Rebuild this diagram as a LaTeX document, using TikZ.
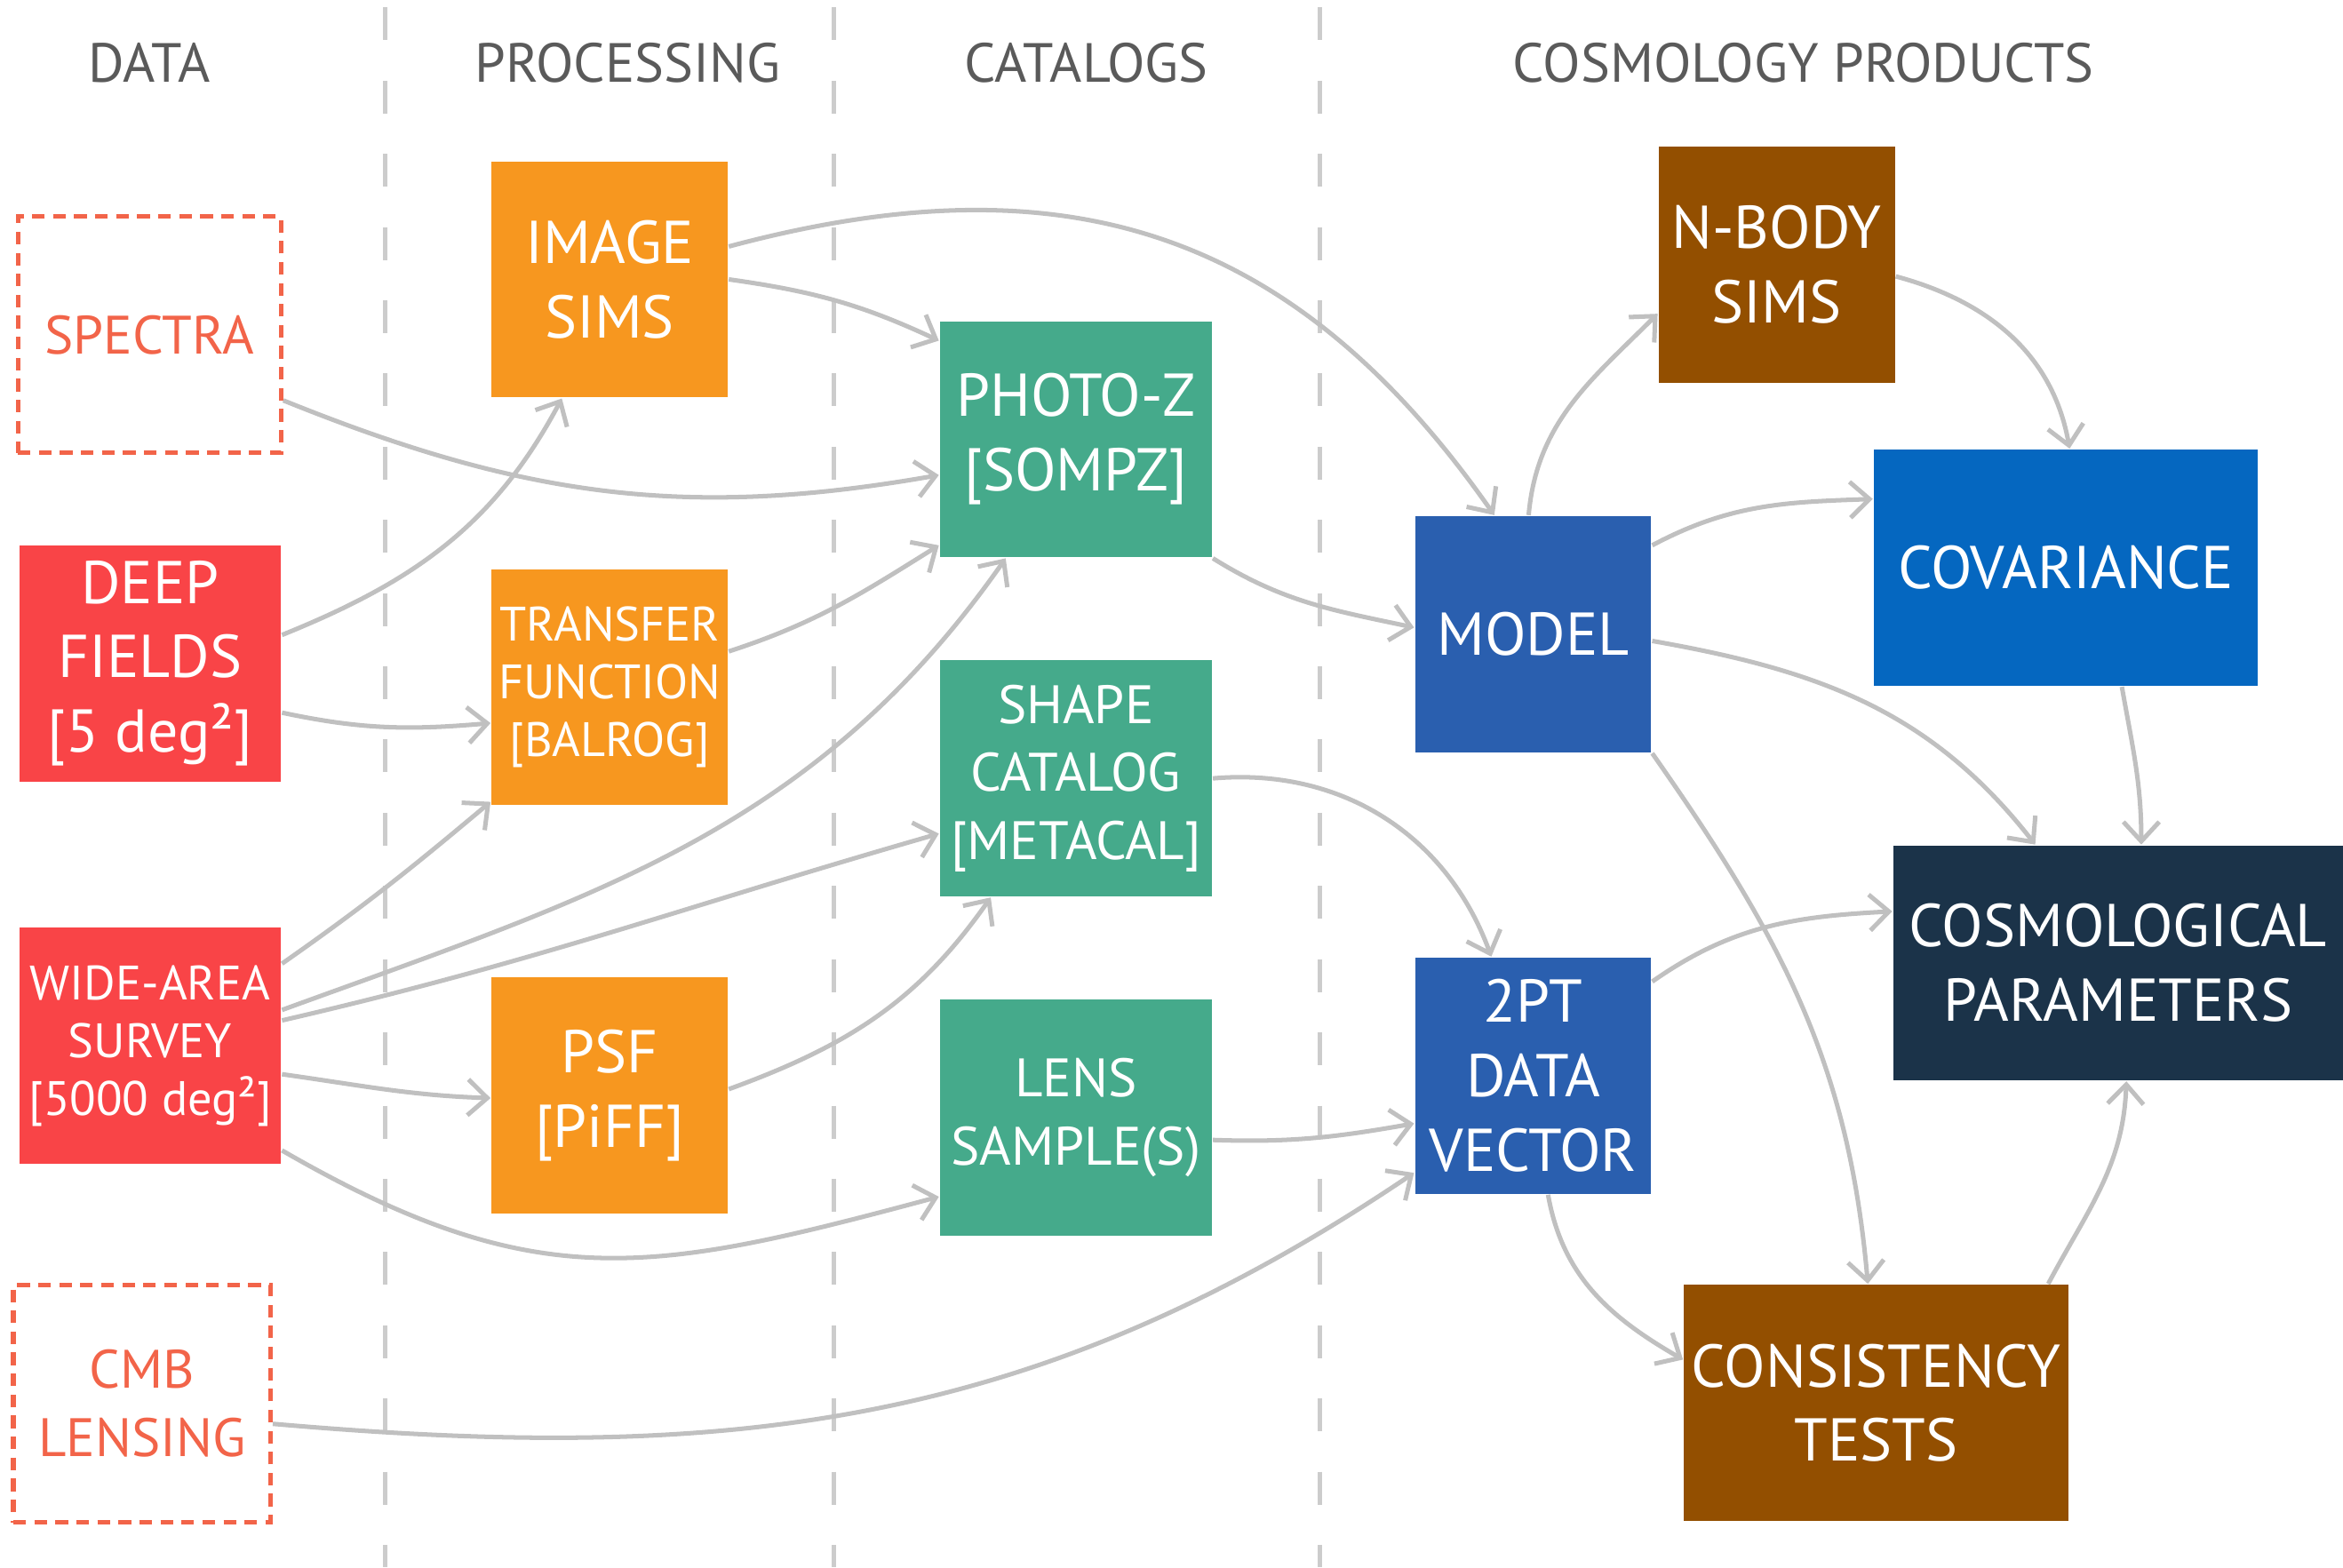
\documentclass[tikz,border=0pt]{standalone}
\usepackage{fontspec}
\setmainfont{PT Sans}
\usepackage{xcolor}
\usetikzlibrary{arrows.meta}

\definecolor{hdrgray}{HTML}{5A5A5A}
\definecolor{divgray}{HTML}{CCCCCC}
\definecolor{linkgray}{HTML}{C0C0C0}
\definecolor{coral}{HTML}{F26449}
\definecolor{datared}{HTML}{F94447}
\definecolor{procorange}{HTML}{F7971F}
\definecolor{catgreen}{HTML}{45AA8B}
\definecolor{modelblue}{HTML}{2A5FAF}
\definecolor{covblue}{HTML}{0567C0}
\definecolor{paramnavy}{HTML}{1B3349}
\definecolor{simbrown}{HTML}{934F00}

\begin{document}
\begin{tikzpicture}[
  box/.style={rectangle, inner sep=0pt, align=center, text=white,
    minimum width=1.58cm, minimum height=1.58cm},
  dashbox/.style={rectangle, draw=coral, line width=0.9pt,
    dash pattern=on 2.4pt off 1.6pt, text=coral, inner sep=0pt,
    align=center, minimum height=1.58cm},
  hdr/.style={text=hdrgray, font=\fontsize{10.5}{12}\selectfont},
  bigtext/.style={font=\fontsize{11.5}{14.2}\selectfont},
  midtext/.style={font=\fontsize{10.3}{13}\selectfont},
  smalltext/.style={font=\fontsize{9.2}{11}\selectfont},
  flow/.style={draw=linkgray, line width=0.85pt,
    -{Straight Barb[length=1.3mm,width=2.4mm]}},
  node distance=2.27cm]
  \useasboundingbox (0,0) rectangle (15.68,-10.49);

  % column dividers
  \foreach \x in {2.58,5.58,8.83}
    \draw[divgray, line width=0.85pt, dash pattern=on 0.22cm off 0.27cm]
      (\x,-0.05) -- (\x,-10.49);

  % column headers
  \node (hdata) [hdr] at (1.00,-0.42) {DATA};
  \node (hproc) [hdr] at (4.20,-0.42) {PROCESSING};
  \node (hcat) [hdr] at (7.27,-0.42) {CATALOGS};
  \node (hcosmo) [hdr] at (12.07,-0.42) {COSMOLOGY PRODUCTS};

  % data
  \node (spectra) [dashbox, minimum width=1.76cm, midtext] at (1.00,-2.24) {SPECTRA};
  \node (deep) [box, fill=datared, minimum width=1.75cm, bigtext] at (1.005,-4.44) {DEEP\\FIELDS\\{}[5 deg²]};
  \node (wide) [box, fill=datared, minimum width=1.75cm, smalltext] at (1.005,-7.00) {WIDE-AREA\\SURVEY\\{}[5000 deg²]};
  \node (cmb) [dashbox, minimum width=1.72cm, minimum height=1.59cm, midtext] at (0.95,-9.395) {CMB\\LENSING};

  % processing
  \node (imsims) [box, fill=procorange, bigtext] at (4.08,-1.87) {IMAGE\\SIMS};
  \node (transfer) [box, fill=procorange, smalltext, node distance=2.73cm, below of=imsims] {TRANSFER\\FUNCTION\\{}[BALROG]};
  \node (psf) [box, fill=procorange, bigtext, node distance=2.73cm, below of=transfer] {PSF\\{}[PiFF]};

  % catalogs
  \node (photoz) [box, fill=catgreen, minimum width=1.82cm, bigtext] at (7.20,-2.94) {PHOTO-Z\\{}[SOMPZ]};
  \node (shape) [box, fill=catgreen, minimum width=1.82cm, midtext, below of=photoz] {SHAPE\\CATALOG\\{}[METACAL]};
  \node (lens) [box, fill=catgreen, minimum width=1.82cm, midtext, below of=shape] {LENS\\SAMPLE(S)};

  % cosmology products
  \node (model) [box, fill=modelblue, bigtext] at (10.26,-4.245) {MODEL};
  \node (twopt) [box, fill=modelblue, bigtext, node distance=2.955cm, below of=model] {2PT\\DATA\\VECTOR};
  \node (nbody) [box, fill=simbrown, bigtext] at (11.89,-1.77) {N-BODY\\SIMS};
  \node (cov) [box, fill=covblue, minimum width=2.57cm, bigtext] at (13.825,-3.80) {COVARIANCE};
  \node (cosmo) [box, fill=paramnavy, minimum width=3.01cm, minimum height=1.57cm, bigtext] at (14.175,-6.445) {COSMOLOGICAL\\PARAMETERS};
  \node (consist) [box, fill=simbrown, minimum width=2.57cm, bigtext] at (12.555,-9.39) {CONSISTENCY\\TESTS};

  % links
  \draw[flow] ([yshift=2.2mm]imsims.east) to[out=15,in=125,looseness=1.1] ([xshift=-2.6mm]model.north);
  \draw[flow] (imsims.east) to[out=-8,in=155] ([yshift=6.6mm]photoz.west);
  \draw[flow] ([yshift=-4.4mm]spectra.east) to[out=-22,in=190] ([yshift=-2.4mm]photoz.west);
  \draw[flow] ([yshift=1.9mm]deep.east) to[out=22,in=-118] ([xshift=-3.2mm]imsims.south);
  \draw[flow] ([yshift=-3.3mm]deep.east) to[out=-12,in=185] ([yshift=-2.4mm]transfer.west);
  \draw[flow] ([yshift=2.4mm]transfer.east) to[out=18,in=-148] ([yshift=-7.1mm]photoz.west);
  \draw[flow] ([yshift=5.5mm]wide.east) to[out=35,in=-140] ([yshift=0.3mm]transfer.south west);
  \draw[flow] ([yshift=2.4mm]wide.east) to[out=20,in=-125] ([xshift=-4.7mm]photoz.south);
  \draw[flow] ([yshift=1.7mm]wide.east) to[out=13,in=-164] ([yshift=-3.7mm]shape.west);
  \draw[flow] ([yshift=-1.9mm]wide.east) to[out=-8,in=178] ([yshift=-0.2mm]psf.west);
  \draw[flow] ([yshift=-7mm]wide.east) to[out=-30,in=-165,looseness=1.15] ([yshift=-5.3mm]lens.west);
  \draw[flow] ([yshift=0.4mm]psf.east) to[out=20,in=-125] ([xshift=-5.7mm]shape.south);
  \draw[flow] (photoz.south east) to[out=-32,in=168] ([yshift=0.45mm]model.west);
  \draw[flow] (shape.east) to[out=5,in=110] ([xshift=-2.8mm]twopt.north);
  \draw[flow] ([yshift=-1.5mm]lens.east) to[out=-2,in=190] ([yshift=-3.2mm]twopt.west);
  \draw[flow] ([yshift=-1.35mm]cmb.east) to[out=-5,in=-146] ([yshift=-6.5mm]twopt.west);
  \draw[flow] ([xshift=-0.3mm]model.north) to[out=85,in=-135] ([yshift=-3.3mm]nbody.west);
  \draw[flow] ([yshift=-0.8mm]nbody.east) to[out=-15,in=100] ([xshift=0.25mm]cov.north);
  \draw[flow] ([yshift=5.95mm]model.east) to[out=28,in=182] ([yshift=4.6mm]cov.west);
  \draw[flow] ([yshift=-0.45mm]model.east) to[out=-10,in=128] ([xshift=-5.55mm]cosmo.north);
  \draw[flow] (model.south east) to[out=-55,in=95] ([xshift=-0.55mm]consist.north);
  \draw[flow] ([xshift=3.75mm]cov.south) to[out=-80,in=90] ([xshift=1.55mm]cosmo.north);
  \draw[flow] ([yshift=6.3mm]twopt.east) to[out=35,in=183] ([yshift=3.45mm]cosmo.west);
  \draw[flow] ([xshift=1mm]twopt.south) to[out=-80,in=150] ([yshift=2.9mm]consist.west);
  \draw[flow] ([xshift=-1.4mm]consist.north east) to[out=62,in=-92] ([xshift=0.55mm]cosmo.south);
\end{tikzpicture}
\end{document}
